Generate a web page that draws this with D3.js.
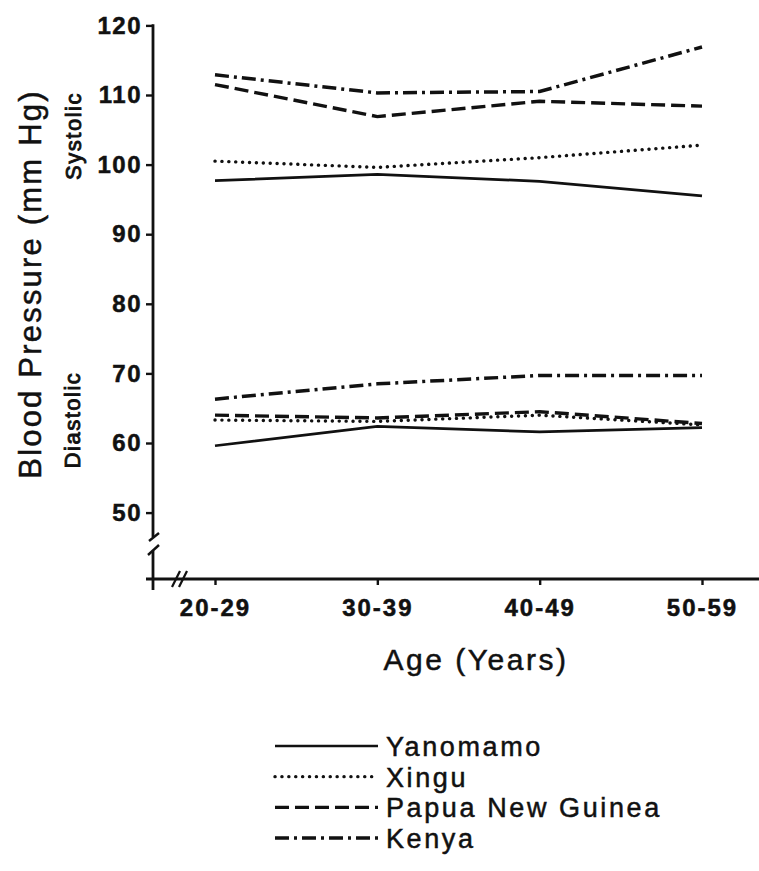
<!DOCTYPE html>
<html><head><meta charset="utf-8">
<script src="https://cdn.jsdelivr.net/npm/d3@7"></script>
<style>
body{margin:0;background:#fff}
text{font-family:"Liberation Sans",Arial,Helvetica,sans-serif;fill:#111;stroke:#111;stroke-width:0.5px}
</style>
</head><body>
<svg id="chart" width="759" height="871"></svg>
<script>
// ---- data ----
const ageGroups = ["20-29", "30-39", "40-49", "50-59"];
const populations = ["Yanomamo", "Xingu", "Papua New Guinea", "Kenya"];
const yTickValues = [50, 60, 70, 80, 90, 100, 110, 120];

const systolicYanomamo = [97.7, 98.6, 97.6, 95.5];
const systolicXingu    = [100.5, 99.6, 101.0, 102.8];
const systolicPapua    = [111.5, 106.9, 109.1, 108.4];
const systolicKenya    = [112.9, 110.3, 110.5, 116.9];

const diastolicYanomamo = [59.6, 62.4, 61.6, 62.2];
const diastolicXingu    = [63.3, 63.1, 64.0, 62.6];
const diastolicPapua    = [64.0, 63.6, 64.5, 62.8];
const diastolicKenya    = [66.3, 68.5, 69.7, 69.7];

// ---- styles per population ----
const styles = {
  "Yanomamo":         {dash: null,             width: 2.7, cap: "butt"},
  "Xingu":            {dash: "0.1,6.8",        width: 3.4, cap: "round"},
  "Papua New Guinea": {dash: "14,6",           width: 3.4, cap: "butt"},
  "Kenya":            {dash: "14,5,3,5",       width: 3.5, cap: "butt"}
};

const seriesList = [
  {pop: "Yanomamo", values: systolicYanomamo},
  {pop: "Xingu", values: systolicXingu},
  {pop: "Papua New Guinea", values: systolicPapua},
  {pop: "Kenya", values: systolicKenya},
  {pop: "Yanomamo", values: diastolicYanomamo},
  {pop: "Xingu", values: diastolicXingu},
  {pop: "Papua New Guinea", values: diastolicPapua},
  {pop: "Kenya", values: diastolicKenya}
];

const svg = d3.select("#chart");

const axisX0 = 153;     // y-axis position
const axisY0 = 579;     // x-axis position

const x = d3.scalePoint().domain(ageGroups).range([215, 702]);
const y = d3.scaleLinear().domain([60, 110]).range([443, 95]);

// ---- axes ----
const gy = svg.append("g").attr("transform", `translate(${axisX0},0)`)
  .call(d3.axisLeft(y).tickValues(yTickValues).tickSize(7).tickPadding(4).tickSizeOuter(0));
gy.select(".domain").remove();
gy.selectAll(".tick line").attr("stroke", "#111").attr("stroke-width", 2.4);
gy.selectAll(".tick text")
  .style("font-size", "24px").style("font-weight", "bold").style("letter-spacing", "1.5px")
  .attr("fill", "#111");

// y axis line with break
const axisStroke = {stroke: "#111", "stroke-width": 2.8, fill: "none"};
function styled(sel){ Object.entries(axisStroke).forEach(([k,v])=>sel.attr(k,v)); return sel; }
styled(svg.append("line").attr("x1", axisX0).attr("x2", axisX0).attr("y1", y(120) - 1.2).attr("y2", 537));
styled(svg.append("line").attr("x1", axisX0).attr("x2", axisX0).attr("y1", 551).attr("y2", 590));
styled(svg.append("line").attr("x1", axisX0 - 4).attr("x2", axisX0 + 6).attr("y1", 541).attr("y2", 533)).attr("stroke-width", 2.4);
styled(svg.append("line").attr("x1", axisX0 - 5).attr("x2", axisX0 + 6).attr("y1", 555).attr("y2", 545)).attr("stroke-width", 2.4);

// x axis
const gx = svg.append("g").attr("transform", `translate(0,${axisY0})`)
  .call(d3.axisBottom(x).tickSize(6).tickPadding(14).tickSizeOuter(0));
gx.select(".domain").remove();
gx.selectAll(".tick line").attr("stroke", "#111").attr("stroke-width", 2.4);
gx.selectAll(".tick text")
  .style("font-size", "24px").style("font-weight", "bold").style("letter-spacing", "2px")
  .attr("fill", "#111");
styled(svg.append("line").attr("x1", 146).attr("x2", 759).attr("y1", axisY0).attr("y2", axisY0));
styled(svg.append("line").attr("x1", 172).attr("x2", 180).attr("y1", axisY0 + 8).attr("y2", axisY0 - 8)).attr("stroke-width", 2.2);
styled(svg.append("line").attr("x1", 179).attr("x2", 187).attr("y1", axisY0 + 8).attr("y2", axisY0 - 8)).attr("stroke-width", 2.2);

// ---- axis titles ----
svg.append("text").attr("transform", "translate(41,284) rotate(-90)")
  .attr("text-anchor", "middle").style("font-size", "31px").style("letter-spacing", "2.2px")
  .text("Blood Pressure (mm Hg)");
svg.append("text").attr("transform", "translate(81,136) rotate(-90)")
  .attr("text-anchor", "middle").style("font-size", "22px").style("letter-spacing", "1.5px")
  .style("stroke-width", "0.9px")
  .text("Systolic");
svg.append("text").attr("transform", "translate(80,420) rotate(-90)")
  .attr("text-anchor", "middle").style("font-size", "22px").style("letter-spacing", "1.5px")
  .style("stroke-width", "0.9px")
  .text("Diastolic");
svg.append("text").attr("x", 476).attr("y", 670)
  .attr("text-anchor", "middle").style("font-size", "30px").style("letter-spacing", "2.5px")
  .text("Age (Years)");

// ---- lines ----
const line = d3.line().x((d, i) => x(ageGroups[i])).y(d => y(d));
svg.append("g").selectAll("path").data(seriesList).join("path")
  .attr("d", d => line(d.values))
  .attr("fill", "none").attr("stroke", "#111")
  .attr("stroke-width", d => styles[d.pop].width)
  .attr("stroke-linecap", d => styles[d.pop].cap)
  .attr("stroke-dasharray", d => styles[d.pop].dash);

// ---- legend ----
const legY = d3.scalePoint().domain(populations).range([746, 838]);
const leg = svg.append("g").selectAll("g").data(populations).join("g")
  .attr("transform", d => `translate(0,${legY(d)})`);
leg.append("line").attr("x1", 275).attr("x2", 378).attr("y1", 0).attr("y2", 0)
  .attr("stroke", "#111")
  .attr("stroke-width", d => styles[d].width)
  .attr("stroke-linecap", d => styles[d].cap)
  .attr("stroke-dasharray", d => styles[d].dash);
leg.append("text").attr("x", 386).attr("y", 10)
  .style("font-size", "27px").style("letter-spacing", "2.6px")
  .text(d => d);
</script>
</body></html>
